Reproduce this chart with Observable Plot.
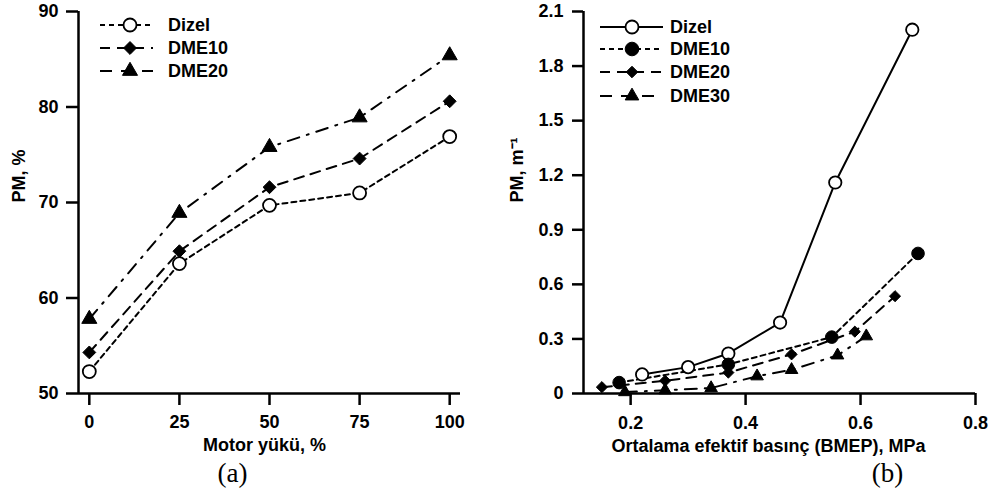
<!DOCTYPE html>
<html>
<head>
<meta charset="utf-8">
<script src="https://cdn.jsdelivr.net/npm/d3@7"></script>
<script src="https://cdn.jsdelivr.net/npm/@observablehq/plot@0.6"></script>
<style>
  html, body { margin: 0; padding: 0; background: #fff; }
  #wrap { display: flex; width: 990px; height: 499px; }
  #wrap svg { display: block; }
  #wrap g[aria-label="x-axis tick label"] text,
  #wrap g[aria-label="y-axis tick label"] text { font-size: 18px; font-weight: bold; }
</style>
</head>
<body>
<div id="wrap"></div>
<script>
// ---------- Data: panel (a) ----------
const loadPct = [0, 25, 50, 75, 100];
const aDizel = [52.3, 63.6, 69.7, 71.0, 76.9];
const aDME10 = [54.3, 64.9, 71.6, 74.6, 80.6];
const aDME20 = [57.8, 68.9, 75.8, 78.9, 85.4];
const aYTicks = [50, 60, 70, 80, 90];
const aXTicks = [0, 25, 50, 75, 100];

// ---------- Data: panel (b) ----------
const bDizelX = [0.22, 0.30, 0.37, 0.46, 0.556, 0.69];
const bDizelY = [0.105, 0.145, 0.22, 0.39, 1.16, 2.0];
const bDME10X = [0.18, 0.37, 0.55, 0.70];
const bDME10Y = [0.06, 0.16, 0.31, 0.77];
const bDME20X = [0.15, 0.26, 0.37, 0.48, 0.59, 0.66];
const bDME20Y = [0.035, 0.07, 0.115, 0.215, 0.34, 0.535];
const bDME30X = [0.19, 0.26, 0.34, 0.42, 0.48, 0.56, 0.61];
const bDME30Y = [0.008, 0.018, 0.03, 0.095, 0.13, 0.21, 0.315];
const bYTicks = [0, 0.3, 0.6, 0.9, 1.2, 1.5, 1.8, 2.1];
const bXTicks = [0.2, 0.4, 0.6, 0.8];

const FONT = "Liberation Sans, Arial, Helvetica, sans-serif";
const SERIF = "Liberation Serif, Times New Roman, serif";
const FS = 18;

function seriesMarks(series) {
  const marks = [];
  for (const s of series) {
    const data = s.x.map((x, i) => ({x, y: s.y[i]}));
    marks.push(Plot.line(data, {x: "x", y: "y", stroke: "black", strokeWidth: 2, strokeDasharray: s.dash}));
  }
  for (const s of series) {
    const data = s.x.map((x, i) => ({x, y: s.y[i]}));
    marks.push(Plot.dot(data, {x: "x", y: "y", symbol: s.symbol, r: s.r, fill: s.fill, stroke: "black", strokeWidth: s.fill === "white" ? 1.8 : 1}));
  }
  return marks;
}

function addLegend(svg, series, pos) {
  const g = d3.select(svg).append("g").attr("text-anchor", "start");
  series.forEach((s, i) => {
    const y = pos.ys[i];
    g.append("line").attr("x1", pos.x1).attr("x2", pos.x2).attr("y1", y).attr("y2", y)
      .attr("stroke", "black").attr("stroke-width", 2).attr("stroke-dasharray", s.legendDash || s.dash);
    g.append("path").attr("transform", `translate(${pos.xm},${y})`)
      .attr("d", d3.symbol(s.symbol, Math.PI * s.lr * s.lr)())
      .attr("fill", s.fill).attr("stroke", "black").attr("stroke-width", s.fill === "white" ? 1.8 : 1);
    g.append("text").attr("x", pos.xt).attr("y", y).attr("dy", "0.35em")
      .attr("text-anchor", "start")
      .attr("font-family", FONT).attr("font-size", FS).attr("font-weight", "bold").attr("fill", "black")
      .text(s.name);
  });
}

// ---------- Panel (a) ----------
const seriesA = [
  {name: "Dizel", x: loadPct, y: aDizel, dash: "5,4", symbol: d3.symbolCircle, r: 6.5, lr: 6.5, fill: "white"},
  {name: "DME10", x: loadPct, y: aDME10, dash: "10,7", symbol: d3.symbolDiamond2, r: 5.8, lr: 5.8, fill: "black"},
  {name: "DME20", x: loadPct, y: aDME20, dash: "12,8,2,8", legendDash: "12,9", symbol: d3.symbolTriangle2, r: 7.2, lr: 7.2, fill: "black"}
];

const plotA = Plot.plot({
  width: 495, height: 499,
  marginLeft: 78, marginRight: 35, marginTop: 11, marginBottom: 106,
  style: {fontFamily: FONT, fontSize: FS + "px", fontWeight: "bold", color: "black", background: "white", overflow: "visible"},
  x: {domain: [-3, 103], axis: null},
  y: {domain: [50, 90], axis: null},
  marks: [
    Plot.axisY(aYTicks, {anchor: "left", tickSize: 12, tickPadding: 8, strokeWidth: 2.5, label: null, fontSize: FS, fontWeight: "bold"}),
    Plot.axisX(aXTicks, {anchor: "bottom", tickSize: 12, tickPadding: 10, strokeWidth: 2.5, label: null, fontSize: FS, fontWeight: "bold"}),
    Plot.ruleX([-3], {stroke: "black", strokeWidth: 2.5}),
    Plot.ruleY([50], {stroke: "black", strokeWidth: 2.5}),
    ...seriesMarks(seriesA),
    Plot.text(["Motor yükü, %"], {text: d => d, frameAnchor: "bottom", lineAnchor: "top", dy: 45, dx: -5, fontSize: FS, fontWeight: "bold"}),
    Plot.text(["PM, %"], {text: d => d, frameAnchor: "left", rotate: -90, dx: -59, fontSize: FS, fontWeight: "bold"}),
    Plot.text(["(a)"], {text: d => d, frameAnchor: "bottom", dy: 88, dx: -37, fontSize: 27, fontWeight: "normal", fontFamily: SERIF})
  ]
});
addLegend(plotA, seriesA, {x1: 100, x2: 153, xm: 130, xt: 168, ys: [25, 48, 71]});

// ---------- Panel (b) ----------
const seriesB = [
  {name: "Dizel", x: bDizelX, y: bDizelY, dash: null, symbol: d3.symbolCircle, r: 6.2, lr: 6.5, fill: "white"},
  {name: "DME10", x: bDME10X, y: bDME10Y, dash: "5,4", symbol: d3.symbolCircle, r: 6.3, lr: 6.8, fill: "black"},
  {name: "DME20", x: bDME20X, y: bDME20Y, dash: "10,7", symbol: d3.symbolDiamond2, r: 5, lr: 5.2, fill: "black"},
  {name: "DME30", x: bDME30X, y: bDME30Y, dash: "12,8,2,8", legendDash: "12,9", symbol: d3.symbolTriangle2, r: 6, lr: 6.5, fill: "black"}
];

const plotB = Plot.plot({
  width: 495, height: 499,
  marginLeft: 88, marginRight: 15, marginTop: 11, marginBottom: 106,
  style: {fontFamily: FONT, fontSize: FS + "px", fontWeight: "bold", color: "black", background: "white", overflow: "visible"},
  x: {domain: [0.118, 0.8], axis: null},
  y: {domain: [0, 2.1], axis: null},
  marks: [
    Plot.axisY(bYTicks, {anchor: "left", tickSize: 11, tickPadding: 9, strokeWidth: 2.5, label: null, fontSize: FS, fontWeight: "bold", tickFormat: d => d === 0 ? "0" : d.toFixed(1)}),
    Plot.axisX(bXTicks, {anchor: "bottom", tickSize: 12, tickPadding: 11, strokeWidth: 2.5, label: null, fontSize: FS, fontWeight: "bold", tickFormat: d => d.toFixed(1)}),
    Plot.ruleX([0.118], {stroke: "black", strokeWidth: 2.5}),
    Plot.ruleY([0], {stroke: "black", strokeWidth: 2.5}),
    ...seriesMarks(seriesB),
    Plot.text(["Ortalama efektif basınç (BMEP), MPa"], {text: d => d, frameAnchor: "bottom", lineAnchor: "top", dy: 46, dx: -11, fontSize: FS, fontWeight: "bold"}),
    Plot.text(["PM, m⁻¹"], {text: d => d, frameAnchor: "left", rotate: -90, dx: -66, fontSize: FS, fontWeight: "bold"}),
    Plot.text(["(b)"], {text: d => d, frameAnchor: "bottom", dy: 88, dx: 108, fontSize: 27, fontWeight: "normal", fontFamily: SERIF})
  ]
});
addLegend(plotB, seriesB, {x1: 105, x2: 168, xm: 137, xt: 175, ys: [27, 49, 72, 96]});

document.getElementById("wrap").append(plotA, plotB);
</script>
</body>
</html>
